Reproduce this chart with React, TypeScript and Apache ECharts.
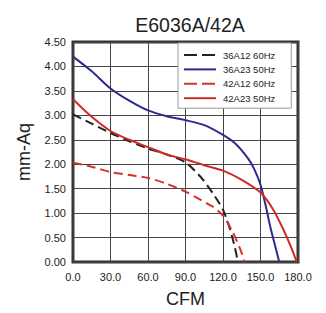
import React, { useEffect, useRef } from "react";
import * as echarts from "echarts";

const title = "E6036A/42A";
const xName = "CFM";
const yName = "mm-Aq";

const names = ["36A12 60Hz", "36A23 50Hz", "42A12 60Hz", "42A23 50Hz"];

// [CFM, mm-Aq]
const s36A12_60: number[][] = [
  [0, 3.02], [15, 2.83], [30, 2.64], [45, 2.47], [60, 2.32], [75, 2.2], [90, 2.04],
  [100, 1.8], [105, 1.65], [112, 1.4], [120, 1.07], [125, 0.72], [129, 0.35], [132, 0],
];
const s36A23_50: number[][] = [
  [0, 4.2], [15, 3.9], [30, 3.55], [45, 3.3], [60, 3.1], [75, 2.98], [90, 2.9],
  [105, 2.8], [120, 2.6], [130, 2.42], [140, 2.12], [145, 1.9], [150, 1.58],
  [154, 1.17], [158, 0.7], [162, 0.3], [165, 0],
];
const s42A12_60: number[][] = [
  [0, 2.03], [15, 1.95], [30, 1.84], [45, 1.78], [60, 1.72], [75, 1.6], [90, 1.44],
  [100, 1.3], [107, 1.2], [112, 1.13], [120, 0.95], [128, 0.6], [134, 0.25], [137.5, 0],
];
const s42A23_50: number[][] = [
  [0, 3.33], [15, 2.97], [30, 2.68], [45, 2.5], [60, 2.35], [75, 2.2], [90, 2.1],
  [105, 1.98], [120, 1.87], [135, 1.68], [150, 1.42], [160, 1.08], [168, 0.68],
  [175, 0.27], [179, 0],
];

const FONT = "Liberation Sans, Arial, sans-serif";

export default function App() {
  const ref = useRef<HTMLDivElement>(null);
  useEffect(() => {
    if (!ref.current) return;
    const chart = echarts.init(ref.current, null, { renderer: "svg" });
    const mk = (name: string, data: number[][], color: string, dashed: boolean) => ({
      name,
      type: "line",
      data,
      smooth: 0.25,
      symbol: "none",
      lineStyle: { color, width: 2, type: dashed ? [9, 5] : "solid" },
      itemStyle: { color },
    });
    chart.setOption({
      animation: false,
      title: {
        text: title,
        left: 185,
        textAlign: "center",
        top: 10,
        textStyle: { fontFamily: FONT, fontSize: 19.5, fontWeight: "normal", color: "#222" },
      },
      legend: {
        orient: "vertical",
        left: 178,
        top: 43,
        width: 120,
        backgroundColor: "#fff",
        borderColor: "#999",
        borderWidth: 1,
        borderRadius: 0,
        padding: [7, 16, 5, 5],
        itemWidth: 32,
        itemHeight: 10,
        itemGap: 4.4,
        itemStyle: { opacity: 0, borderWidth: 0 },
        textStyle: { fontFamily: FONT, fontSize: 9.5, color: "#222", padding: [0, 0, 0, 2] },
        data: [
          { name: names[0], lineStyle: { type: [13, 5] } },
          { name: names[1] },
          { name: names[2], lineStyle: { type: [13, 5] } },
          { name: names[3] },
        ],
      },
      grid: {
        left: 73,
        right: 28,
        top: 42,
        bottom: 45,
        show: true,
        borderColor: "#333",
        borderWidth: 3,
      },
      xAxis: {
        type: "value",
        min: 0,
        max: 180,
        interval: 30,
        name: xName,
        nameLocation: "middle",
        nameGap: 28,
        nameTextStyle: { fontFamily: FONT, fontSize: 18, color: "#222" },
        axisLine: { show: false },
        axisTick: { show: false },
        axisLabel: {
          fontFamily: FONT,
          fontSize: 11,
          color: "#222",
          margin: 9,
          formatter: (v: number) => v.toFixed(1),
        },
        splitLine: { show: true, lineStyle: { color: "#444", width: 1 } },
      },
      yAxis: {
        type: "value",
        min: 0,
        max: 4.5,
        interval: 0.5,
        name: yName,
        nameLocation: "middle",
        nameGap: 40,
        nameTextStyle: { fontFamily: FONT, fontSize: 18, color: "#222" },
        axisLine: { show: false },
        axisTick: { show: false },
        axisLabel: {
          fontFamily: FONT,
          fontSize: 11,
          color: "#222",
          margin: 7,
          formatter: (v: number) => v.toFixed(2),
        },
        splitLine: { show: true, lineStyle: { color: "#444", width: 1 } },
      },
      series: [
        mk(names[0], s36A12_60, "#222222", true),
        mk(names[1], s36A23_50, "#2b2c8c", false),
        mk(names[2], s42A12_60, "#d8302c", true),
        mk(names[3], s42A23_50, "#d02a28", false),
      ],
    });
    return () => chart.dispose();
  }, []);
  return (
    <div
      ref={ref}
      style={{ position: "fixed", left: 0, top: 0, width: 326, height: 313, background: "#fff" }}
    />
  );
}
